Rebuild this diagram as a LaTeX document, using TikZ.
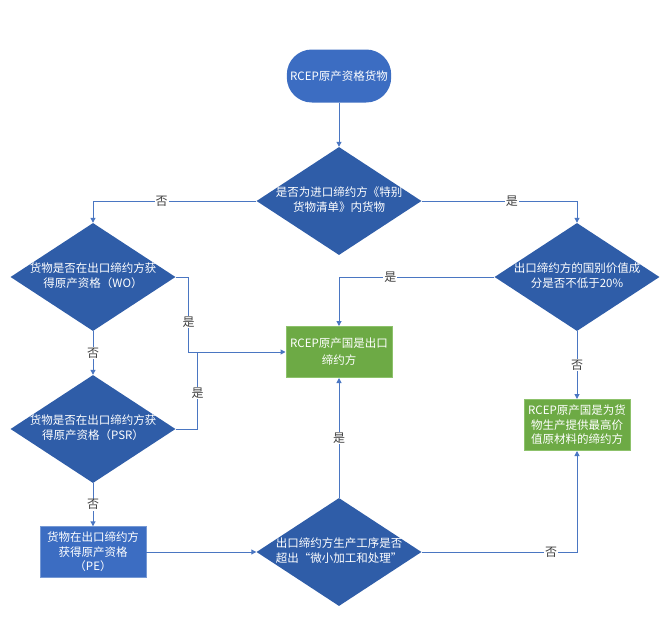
\documentclass[tikz,border=0pt]{standalone}
\usepackage{fontspec}
\setmainfont{Noto Sans CJK SC}
\usetikzlibrary{shapes.geometric,arrows.meta}
\definecolor{diablue}{HTML}{2F5DA8}
\definecolor{boxblue}{HTML}{3C6DC2}
\definecolor{boxgreen}{HTML}{6DAA45}
\definecolor{linegreen}{HTML}{8DC26B}
\definecolor{lineblue}{HTML}{4A76C2}
\newcommand{\dtxt}[2][c]{\makebox[0pt]{\smash{\raisebox{-0.25em}{\begin{tabular}{@{}#1@{}}#2\end{tabular}}}}}

\begin{document}
\begin{tikzpicture}[x=1pt,y=-1pt,
  every node/.append style={font=\fontsize{11.5}{14.5}\selectfont},
  arr/.style={draw=lineblue, line width=1pt, -{Triangle[length=5pt,width=5pt]}},
  con/.style={draw=lineblue, line width=1pt},
  lbl/.style={fill=white, text=black!75, inner sep=1pt, font=\fontsize{12}{14}\selectfont},
  dia/.style={diamond, aspect=1.5, fill=diablue, text=white, inner sep=0pt, minimum width=165pt, minimum height=108pt},
  term/.style={rectangle, rounded corners=25pt, fill=boxblue, text=white, minimum width=103pt, minimum height=53pt},
  bluebox/.style={rectangle, fill=boxblue, draw=boxblue!70!white, text=white, align=center, minimum width=106pt, minimum height=51pt, inner sep=2pt},
  greenbox/.style={rectangle, fill=boxgreen, draw=linegreen, line width=1pt, text=white, align=center, minimum width=106pt, minimum height=51pt, inner sep=2pt}]
  \useasboundingbox (0,0) rectangle (667,640);

  \node[term] (start) at (339,76) {RCEP原产资格货物};
  \node[dia] (q1) at (339,201) {\dtxt{是否为进口缔约方《特别\\货物清单》内货物}};
  \node[dia] (wo) at (93,277) {\dtxt{货物是否在出口缔约方获\\得原产资格（WO）}};
  \node[dia] (vc) at (577,277) {\dtxt{出口缔约方的国别价值成\\分是否不低于20\%}};
  \node[greenbox, font=\fontsize{11.5}{17}\selectfont] (g1) at (339,352) {RCEP原产国是出口\\缔约方};
  \node[dia] (psr) at (93,429) {\dtxt{货物是否在出口缔约方获\\得原产资格（PSR）}};
  \node[greenbox] (g2) at (577,425) {RCEP原产国是为货\\物生产提供最高价\\值原材料的缔约方};
  \node[bluebox] (pe) at (93,552) {货物在出口缔约方\\获得原产资格\\（PE）};
  \node[dia] (q2) at (339,552) {\dtxt[l]{出口缔约方生产工序是否\\超出“微小加工和处理”}};

  \draw[arr] (start) -- (q1);
  \draw[arr] (q1.west) -| node[lbl,pos=0.29] {否} (wo.north);
  \draw[arr] (q1.east) -| node[lbl,pos=0.29] {是} (vc.north);
  \draw[arr] (wo.east) -- ++(13,0) coordinate (j1) |- node[lbl,pos=0.3] {是} (g1.west);
  \draw[con] (psr.east) -- ++(22,0) coordinate (j2) -- node[lbl,pos=0.47] {是} (j2 |- g1.west);
  \draw[arr] (vc.west) -| node[lbl,pos=0.335] {是} (g1.north);
  \draw[arr] (vc.south) -- node[lbl] {否} (g2.north);
  \draw[arr] (wo.south) -- node[lbl] {否} (psr.north);
  \draw[arr] (psr.south) -- node[lbl] {否} (pe.north);
  \draw[arr] (pe.east) -- (q2.west);
  \draw[arr] (q2.north) -- node[lbl] {是} (g1.south);
  \draw[arr] (q2.east) -| node[lbl,pos=0.417] {否} (g2.south);
\end{tikzpicture}
\end{document}
